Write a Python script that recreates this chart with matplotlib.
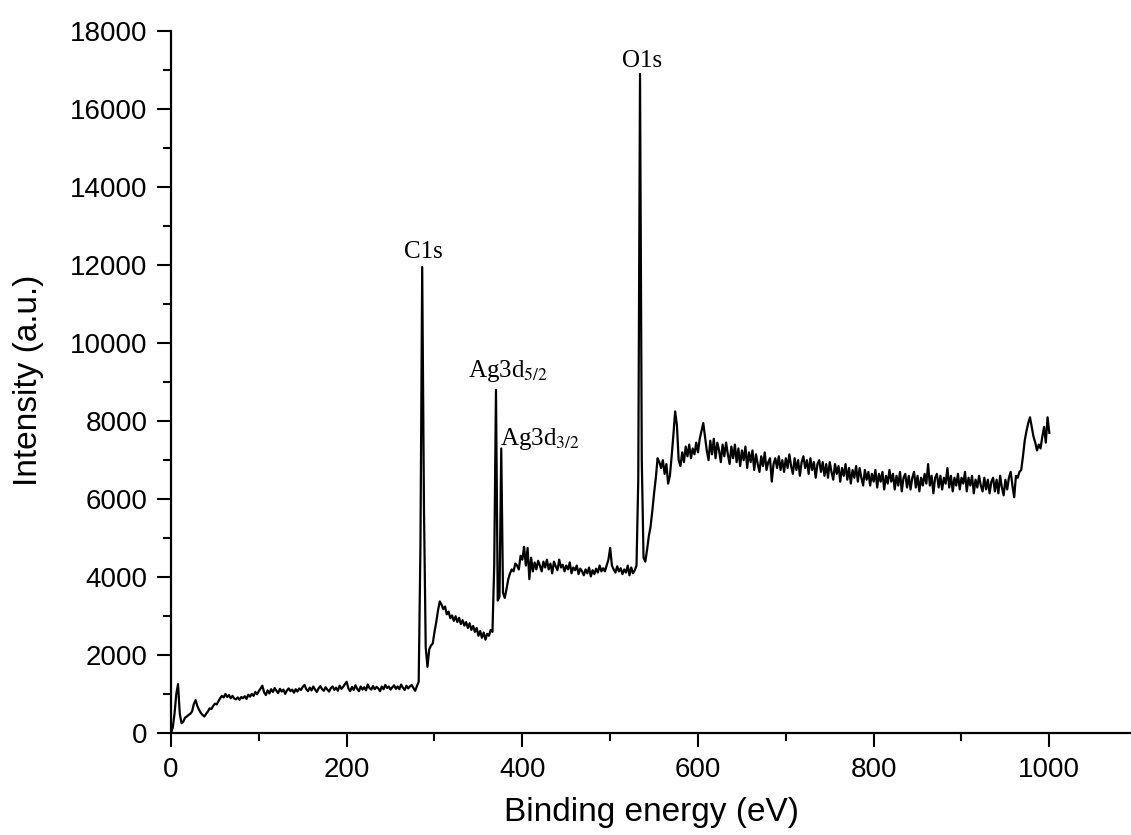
import numpy as np
import matplotlib
matplotlib.use("Agg")
import matplotlib.pyplot as plt
from matplotlib.ticker import MultipleLocator, FixedLocator

STEP = 2
seg_000 = [0, 150, 500, 1000, 1260, 500, 260, 300, 400, 430,
           470, 500, 560, 750, 850, 700, 600, 520, 470, 430,
           500, 560, 640, 620, 700, 760, 740, 820, 900, 960,
           920, 1010, 930, 980, 900, 960, 890, 870, 920, 860,
           930, 900, 950, 880, 990, 940, 1010, 960, 1060, 1000]
seg_100 = [1080, 1150, 1220, 1050, 980, 1100, 1020, 1130, 1060, 1160,
           1090, 1030, 1140, 1070, 1120, 1010, 1100, 1150, 1080, 1120,
           1040, 1130, 1070, 1150, 1110, 1190, 1240, 1130, 1080, 1170,
           1100, 1200, 1120, 1060, 1150, 1210, 1130, 1090, 1180, 1120,
           1070, 1160, 1200, 1110, 1170, 1090, 1220, 1140, 1190, 1260]
seg_200 = [1320, 1150, 1080, 1190, 1110, 1230, 1140, 1080, 1200, 1120,
           1180, 1100, 1250, 1160, 1120, 1210, 1130, 1190, 1150, 1080,
           1200, 1130, 1240, 1160, 1200, 1120, 1180, 1230, 1140, 1200,
           1130, 1250, 1170, 1110, 1220, 1150, 1200, 1240, 1160, 1090,
           1210, 1320, 4800, 11950, 5800, 2200, 1700, 2150, 2250, 2300]
seg_300 = [2600, 2850, 3150, 3380, 3300, 3180, 3250, 3050, 3120, 2950,
           3020, 2880, 3000, 2850, 2960, 2800, 2900, 2760, 2850, 2700,
           2820, 2650, 2750, 2600, 2700, 2500, 2620, 2450, 2580, 2400,
           2550, 2500, 2650, 2600, 4300, 8800, 3400, 3500, 7300, 3600,
           3470, 3700, 3950, 4100, 4200, 4150, 4350, 4300, 4200, 4550]
seg_400 = [4450, 4780, 4300, 4750, 3950, 4500, 4150, 4380, 4200, 4420,
           4300, 4150, 4400, 4250, 4450, 4200, 4350, 4100, 4400, 4280,
           4180, 4450, 4250, 4320, 4150, 4300, 4200, 4380, 4100, 4250,
           4180, 4300, 4080, 4220, 4150, 4050, 4200, 4100, 4250, 4020,
           4180, 4080, 4220, 4120, 4300, 4150, 4230, 4150, 4300, 4450]
seg_500 = [4750, 4300, 4200, 4120, 4280, 4150, 4230, 4080, 4200, 4120,
           4300, 4050, 4250, 4100, 4180, 4300, 6500, 16900, 7000, 4500,
           4400, 4700, 5050, 5300, 5700, 6150, 6550, 7050, 6950, 6800,
           7000, 6650, 6900, 6400, 6600, 7100, 7650, 8250, 7900, 7000,
           6850, 7200, 6950, 7350, 7100, 7400, 7050, 7300, 7150, 7450]
seg_600 = [7200, 7550, 7750, 7950, 7600, 7250, 7000, 7500, 7150, 7550,
           7050, 7450, 7250, 6950, 7400, 7100, 7450, 7150, 6900, 7350,
           7050, 7400, 6950, 7300, 6850, 7250, 7000, 7350, 6800, 7200,
           6950, 7250, 6750, 7150, 6900, 6700, 7100, 6850, 7200, 6750,
           6950, 7050, 6450, 6900, 7050, 6800, 7100, 6750, 7000, 6700]
seg_700 = [7050, 6800, 7150, 6850, 6650, 7050, 6750, 7000, 6600, 6950,
           7100, 6800, 7000, 6650, 7050, 6750, 6950, 6550, 6900, 7000,
           6700, 6950, 6600, 6900, 6550, 6950, 6700, 6500, 6900, 6650,
           6850, 6450, 6800, 6600, 6900, 6500, 6800, 6400, 6750, 6550,
           6850, 6450, 6800, 6550, 6350, 6750, 6500, 6700, 6350, 6650]
seg_800 = [6450, 6750, 6300, 6650, 6450, 6700, 6250, 6600, 6400, 6750,
           6450, 6650, 6250, 6600, 6350, 6700, 6200, 6550, 6650, 6300,
           6600, 6250, 6550, 6700, 6300, 6600, 6200, 6550, 6350, 6650,
           6400, 6900, 6350, 6600, 6150, 6550, 6650, 6300, 6600, 6250,
           6550, 6400, 6800, 6300, 6600, 6200, 6550, 6350, 6650, 6250]
seg_900 = [6550, 6400, 6700, 6200, 6550, 6350, 6600, 6150, 6500, 6300,
           6600, 6350, 6200, 6550, 6250, 6500, 6150, 6450, 6550, 6200,
           6500, 6150, 6600, 6300, 6100, 6500, 6250, 6550, 6700, 6350,
           6050, 6600, 6550, 6700, 6750, 7100, 7500, 7750, 7950, 8100,
           7850, 7600, 7450, 7250, 7400, 7300, 7600, 7850, 7450, 8100,
           7700]
segments = [(0, seg_000), (100, seg_100), (200, seg_200), (300, seg_300),
            (400, seg_400), (500, seg_500), (600, seg_600), (700, seg_700),
            (800, seg_800), (900, seg_900)]

peak_labels = ["C1s", "O1s", r"Ag3d$_{5/2}$", r"Ag3d$_{3/2}$"]
peak_label_x = [287, 536, 338, 375]
peak_label_y = [12170, 17070, 9140, 7390]
peak_label_ha = ["center", "center", "left", "left"]

x_major = [0, 200, 400, 600, 800, 1000]
x_minor = [100, 300, 500, 700, 900]

energy = np.concatenate([start + STEP * np.arange(len(v)) for start, v in segments])
counts = np.concatenate([np.asarray(v, float) for _, v in segments])

plt.rcParams["mathtext.fontset"] = "stix"

fig = plt.figure(figsize=(11.31, 8.35), dpi=100)
W, H = 1131, 835
x0, x1 = 171, 1131
y0, y1 = 733.3, 31
ax = fig.add_axes([x0 / W, 1 - y0 / H, (x1 - x0) / W, (y0 - y1) / H])

ax.plot(energy, counts, color="black", lw=1.6)

ax.set_xlim(0, 1093)
ax.set_ylim(0, 18000)
ax.xaxis.set_major_locator(FixedLocator(x_major))
ax.xaxis.set_minor_locator(FixedLocator(x_minor))
ax.yaxis.set_major_locator(MultipleLocator(2000))
ax.yaxis.set_minor_locator(MultipleLocator(1000))

for s in ["top", "right"]:
    ax.spines[s].set_visible(False)
for s in ["left", "bottom"]:
    ax.spines[s].set_linewidth(1.6)

ax.tick_params(which="major", direction="out", length=10, width=1.5, pad=7,
               labelsize=20)
ax.tick_params(which="minor", direction="out", length=5.5, width=1.5)
for lab in ax.get_xticklabels() + ax.get_yticklabels():
    lab.set_fontfamily("Liberation Sans")

ax.set_xlabel("Binding energy (eV)", fontsize=24, family="Liberation Sans",
              labelpad=10)
ax.set_ylabel("Intensity (a.u.)", fontsize=24, family="Liberation Sans")
ax.yaxis.set_label_coords(-0.1323, 0.503)

for t, xx, yy, ha in zip(peak_labels, peak_label_x, peak_label_y, peak_label_ha):
    ax.text(xx, yy, t, ha=ha, va="baseline", fontsize=18,
            family="Liberation Serif")

fig.savefig("out.png", dpi=100, facecolor="white")
